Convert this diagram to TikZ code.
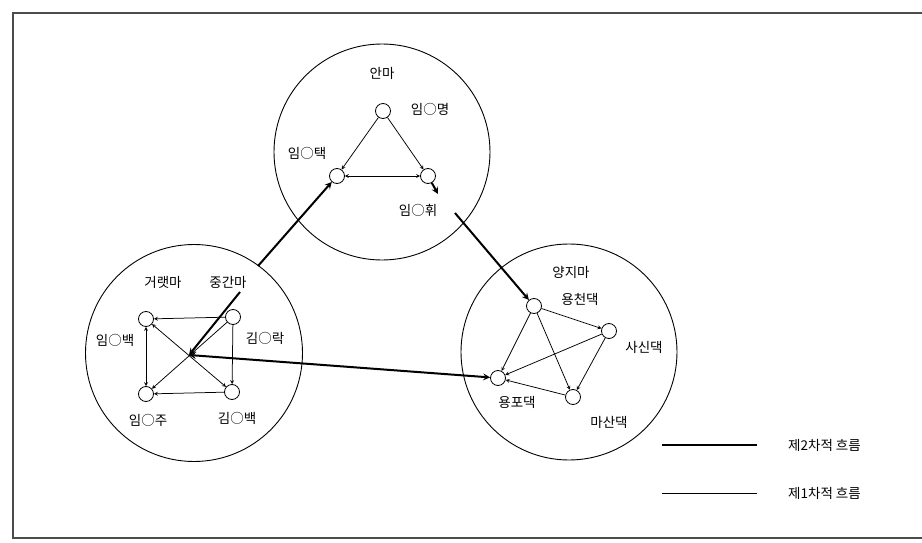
\documentclass[tikz,border=0pt]{standalone}
\usepackage{fontspec}
\newfontfamily\kr{Noto Sans CJK KR}
\tikzset{
  hh/.style={circle,draw,fill=white,minimum size=15pt,inner sep=0pt,line width=0.8pt},
  lbl/.style={font=\kr\fontsize{13.5}{15}\selectfont,inner sep=1pt},
  ring/.style={circle,draw,line width=0.9pt,inner sep=0pt},
  flow1/.style={line width=0.75pt},
  flow2/.style={line width=2pt}
}
\begin{document}
\begin{tikzpicture}[x=1pt,y=-1pt,>=stealth]
  \useasboundingbox (0,0) rectangle (922,543);
  \draw[black!70,line width=1.5pt] (922,13) -- (13,13) -- (13,538) -- (922,538);
  % villages
  \node[ring,minimum size=216pt] (anma) at (382,152) {};
  \node[ring,minimum size=217pt] (geoment) at (194,353) {};
  \node[ring,minimum size=216pt] (yangji) at (569,352) {};
  \node[lbl] (anmaL) at (382,73) {안마};
  \node[lbl] (georaeL) at (163,282) {거랫마};
  \node[lbl] (junganL) at (228,282) {중간마};
  \node[lbl] (yangjiL) at (571,272) {양지마};
  % persons
  \foreach \n/\x/\y in {myeong/383/111, taek/337/176, hwi/428/176,
      baek/146/319, rak/233/317, ju/146/394, kbaek/232/392,
      cheon/534/306, sasin/609/331, yongpo/498/378, masan/573/397}
    \node[hh] (\n) at (\x,\y) {};
  \foreach \n/\x/\y/\t in {myeongL/430/109/임○명, taekL/307/153/임○택, hwiL/418/210/임○휘,
      baekL/115/340/임○백, rakL/265/338/김○락, juL/148/420/임○주, kbaekL/237/418/김○백,
      cheonL/580/299/용천댁, sasinL/644/347/사신댁, yongpoL/517/402/용포댁, masanL/609/422/마산댁}
    \node[lbl] (\n) at (\x,\y) {\t};
  % first flows
  \foreach \a/\b/\s in {myeong/taek/->, myeong/hwi/->, taek/hwi/<->,
      rak/baek/->, baek/ju/<->, rak/kbaek/->, kbaek/ju/->, baek/kbaek/<->, rak/ju/->,
      cheon/yongpo/->, cheon/sasin/->, cheon/masan/->, sasin/yongpo/->, sasin/masan/->, masan/yongpo/->}
    \draw[flow1,\s] (\a) -- (\b);
  % second flows
  \coordinate (mid) at (189,355);
  \coordinate (jtop) at (258,266);
  \coordinate (jbot) at (240,292);
  \coordinate (hw1) at (438,194);
  \coordinate (hw2) at (455,213);
  \draw[flow2,->] (jtop) -- (taek);
  \draw[flow2,->] (jbot) -- (mid);
  \draw[flow2,->] (hwi) -- (hw1);
  \draw[flow2,->] (hw2) -- (cheon);
  \draw[flow2,<->] (mid) -- (yongpo);
  % legend
  \node[lbl,anchor=west] (leg2) at (787,445) {제2차적 흐름};
  \node[lbl,anchor=west] (leg1) at (787,493) {제1차적 흐름};
  \coordinate (l2a) at (662,445);
  \coordinate (l2b) at (757,445);
  \coordinate (l1a) at (662,493);
  \coordinate (l1b) at (757,493);
  \draw[flow2] (l2a) -- (l2b);
  \draw[flow1] (l1a) -- (l1b);
\end{tikzpicture}
\end{document}
